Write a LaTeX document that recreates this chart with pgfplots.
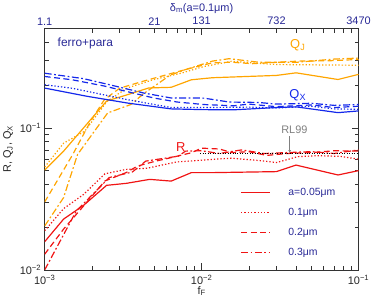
\documentclass[border=0pt]{standalone}
\usepackage{fontspec}
\setmainfont{Liberation Sans}
\usepackage{pgfplots}
\pgfplotsset{compat=1.18}
\usetikzlibrary{arrows.meta}
\definecolor{navy}{RGB}{40,40,150}
\definecolor{orC}{RGB}{255,165,0}
\definecolor{blC}{RGB}{20,40,235}
\definecolor{rdC}{RGB}{240,20,20}
\tikzset{
  sdot/.style={line width=1.2pt, dash pattern=on 1.3pt off 2pt},
  sdash/.style={line width=1.2pt, dash pattern=on 6pt off 3.5pt},
  sdd/.style={line width=1.2pt, dash pattern=on 7pt off 2.5pt on 1.8pt off 2.5pt},
  ssol/.style={line width=1.2pt},
}
\begin{document}
\begin{tikzpicture}
\begin{axis}[
  scale only axis, width=316pt, height=243pt,
  xmode=log, ymode=log, xmin=1e-3, xmax=1e-1, ymin=0.01, ymax=0.5,
  xtick={1e-3,1e-2,1e-1},
  xticklabels={10\textsuperscript{−3},10\textsuperscript{−2},10\textsuperscript{−1}},
  minor xtick={2e-3,3e-3,4e-3,5e-3,6e-3,7e-3,8e-3,9e-3,2e-2,3e-2,4e-2,5e-2,6e-2,7e-2,8e-2,9e-2},
  ytick={0.01,0.1},
  yticklabels={10\textsuperscript{−2},10\textsuperscript{−1}},
  minor ytick={0.02,0.03,0.04,0.05,0.06,0.07,0.08,0.09,0.2,0.3,0.4},
  major tick length=7pt, minor tick length=4pt,
  tick style={black!80, line width=0.6pt},
  axis line style={black!80, line width=0.8pt},
  tick label style={font=\fontsize{11}{13}\selectfont, text=black!85},
  xticklabel style={yshift=-1.5pt},
  xlabel={f\textsubscript{F}}, ylabel={R, Q\textsubscript{J}, Q\textsubscript{X}},
  label style={font=\fontsize{11}{13}\selectfont, text=black!85},
  xlabel style={yshift=5pt},
  legend style={draw=none, fill=none, at={(rel axis cs:0.614,0.357)}, anchor=north west,
    font=\fontsize{10.5}{12}\selectfont, text=navy, row sep=7.5pt, cells={anchor=west}},
  legend image code/.code={\draw[#1] (0pt,0pt) -- (29pt,0pt); \path (45pt,0pt);},
  legend cell align=left,
]
% R (red)
\addplot[rdC, ssol] coordinates {(1e-3,0.0158) (1.32e-3,0.0228) (1.77e-3,0.0285) (2.48e-3,0.0394) (3.32e-3,0.0407) (4.67e-3,0.0434) (6.4e-3,0.0422) (8.6e-3,0.0484) (1.17e-2,0.0484) (3.0e-2,0.0492) (4.0e-2,0.0547) (7.4e-2,0.0466) (1e-1,0.050)};
\addlegendentry{a=0.05μm}
\addplot[rdC, sdot] coordinates {(1e-3,0.0189) (1.32e-3,0.027) (1.77e-3,0.034) (2.42e-3,0.0475) (3.3e-3,0.051) (4.5e-3,0.052) (6.9e-3,0.0575) (1.17e-2,0.060) (1.55e-2,0.0612) (2.4e-2,0.0587) (3.0e-2,0.057) (4.1e-2,0.0627) (5.5e-2,0.0637) (7.7e-2,0.063) (1e-1,0.0602)};
\addlegendentry{0.1μm}
\addplot[rdC, sdash] coordinates {(1e-3,0.0129) (1.32e-3,0.0194) (1.77e-3,0.0282) (2.42e-3,0.0423) (3.3e-3,0.0484) (3.9e-3,0.0538) (5e-3,0.058) (6.5e-3,0.062) (8.6e-3,0.0668) (1.0e-2,0.072) (1.3e-2,0.071) (1.55e-2,0.067) (2.0e-2,0.068) (2.6e-2,0.064) (3.5e-2,0.066) (5e-2,0.067) (7e-2,0.069) (1e-1,0.0686)};
\addlegendentry{0.2μm}
\addplot[rdC, sdd] coordinates {(1e-3,0.0100) (1.59e-3,0.026) (2.58e-3,0.0447) (3.62e-3,0.0489) (4.4e-3,0.0583) (5.2e-3,0.060) (7.1e-3,0.0632) (7.9e-3,0.0686) (1e-2,0.069) (1.3e-2,0.066) (1.8e-2,0.070) (2.5e-2,0.066) (3.5e-2,0.067) (5e-2,0.068) (7e-2,0.066) (1e-1,0.070)};
\addlegendentry{0.3μm}
% Q_J (orange)
\addplot[orC, ssol, forget plot] coordinates {(1e-3,0.0505) (1.32e-3,0.0686) (1.77e-3,0.100) (2.48e-3,0.1545) (3.36e-3,0.171) (4.6e-3,0.191) (6.4e-3,0.193) (8.6e-3,0.218) (1.17e-2,0.2254) (3.0e-2,0.234) (4.0e-2,0.244) (7.4e-2,0.219) (1e-1,0.238)};
\addplot[orC, sdot, forget plot] coordinates {(1e-3,0.053) (1.32e-3,0.078) (1.8e-3,0.0947) (2.5e-3,0.154) (3.36e-3,0.191) (4.9e-3,0.218) (7.4e-3,0.2425) (1.03e-2,0.27) (1.55e-2,0.294) (3e-2,0.279) (1e-1,0.276)};
\addplot[orC, sdash, forget plot] coordinates {(1e-3,0.0301) (1.51e-3,0.065) (1.95e-3,0.110) (2.4e-3,0.158) (3.0e-3,0.19) (4.24e-3,0.213) (7.96e-3,0.258) (1.17e-2,0.287) (1.55e-2,0.29) (2.1e-2,0.283) (4.1e-2,0.295) (6.6e-2,0.297) (1e-1,0.303)};
\addplot[orC, sdd, forget plot] coordinates {(1e-3,0.0204) (1.32e-3,0.0323) (1.62e-3,0.065) (2.52e-3,0.1274) (3.54e-3,0.146) (4.3e-3,0.175) (6.3e-3,0.235) (7.96e-3,0.258) (1.17e-2,0.295) (1.5e-2,0.307) (2.3e-2,0.29) (4.1e-2,0.29) (7e-2,0.305) (1e-1,0.31)};
% Q_X (blue)
\addplot[blC, ssol, forget plot] coordinates {(1e-3,0.1906) (1.88e-3,0.1665) (3.36e-3,0.1496) (6.4e-3,0.136) (1.03e-2,0.1344) (1.6e-2,0.134) (3e-2,0.139) (4e-2,0.1406) (7.4e-2,0.128) (1e-1,0.1316)};
\addplot[blC, sdot, forget plot] coordinates {(1e-3,0.2011) (1.5e-3,0.19) (3.36e-3,0.158) (6.4e-3,0.139) (1.03e-2,0.139) (2e-2,0.14) (3e-2,0.138) (5e-2,0.142) (7e-2,0.136) (1e-1,0.135)};
\addplot[blC, sdash, forget plot] coordinates {(1e-3,0.230) (1.5e-3,0.218) (2.4e-3,0.197) (3.5e-3,0.178) (5e-3,0.162) (7e-3,0.152) (1.03e-2,0.146) (1.6e-2,0.143) (2e-2,0.147) (3e-2,0.141) (5e-2,0.145) (7e-2,0.139) (1e-1,0.142)};
\addplot[blC, sdd, forget plot] coordinates {(1e-3,0.2425) (1.77e-3,0.222) (2.6e-3,0.201) (4.3e-3,0.1757) (6.4e-3,0.1623) (1.03e-2,0.162) (1.5e-2,0.152) (2.3e-2,0.151) (3e-2,0.147) (5e-2,0.149) (7e-2,0.144) (1e-1,0.146)};
% RL99 line
\addplot[black, line width=0.8pt, dash pattern=on 1pt off 1.5pt, forget plot] coordinates {(0.0098,0.066) (0.1,0.066)};
\draw[gray, line width=0.7pt, -{Latex[length=3pt,width=3pt]}] (axis cs:0.0364,0.087) -- (axis cs:0.0364,0.0665);
\node[gray, font=\fontsize{11}{13}\selectfont] at (axis cs:0.039,0.097) {RL99};
\node[navy, anchor=west, font=\fontsize{12}{14}\selectfont] at (axis cs:1.15e-3,0.39) {ferro+para};
\node[orC, font=\fontsize{13}{15}\selectfont] at (axis cs:0.041,0.384) {Q\textsubscript{J}};
\node[blC, font=\fontsize{13}{15}\selectfont] at (axis cs:0.041,0.17) {Q\textsubscript{X}};
\node[rdC, font=\fontsize{13}{15}\selectfont] at (axis cs:0.00736,0.0727) {R};
\end{axis}
\begin{axis}[
  scale only axis, width=316pt, height=243pt,
  xmode=log, ymode=log, xmin=1e-3, xmax=1e-1, ymin=0.01, ymax=0.5,
  axis x line*=top, axis y line=none,
  xtick={1e-3,5e-3,1e-2,3e-2,1e-1},
  xticklabels={1.1,21,131,732,3470},
  minor xtick={},
  major tick length=0pt,
  axis line style={draw=none},
  tick label style={font=\fontsize{11}{13}\selectfont, text=navy},
  xlabel={δ\textsubscript{m}(a=0.1μm)},
  label style={font=\fontsize{11}{13}\selectfont, text=navy},
  xlabel style={yshift=-3pt},
]
\end{axis}
\end{tikzpicture}
\end{document}
